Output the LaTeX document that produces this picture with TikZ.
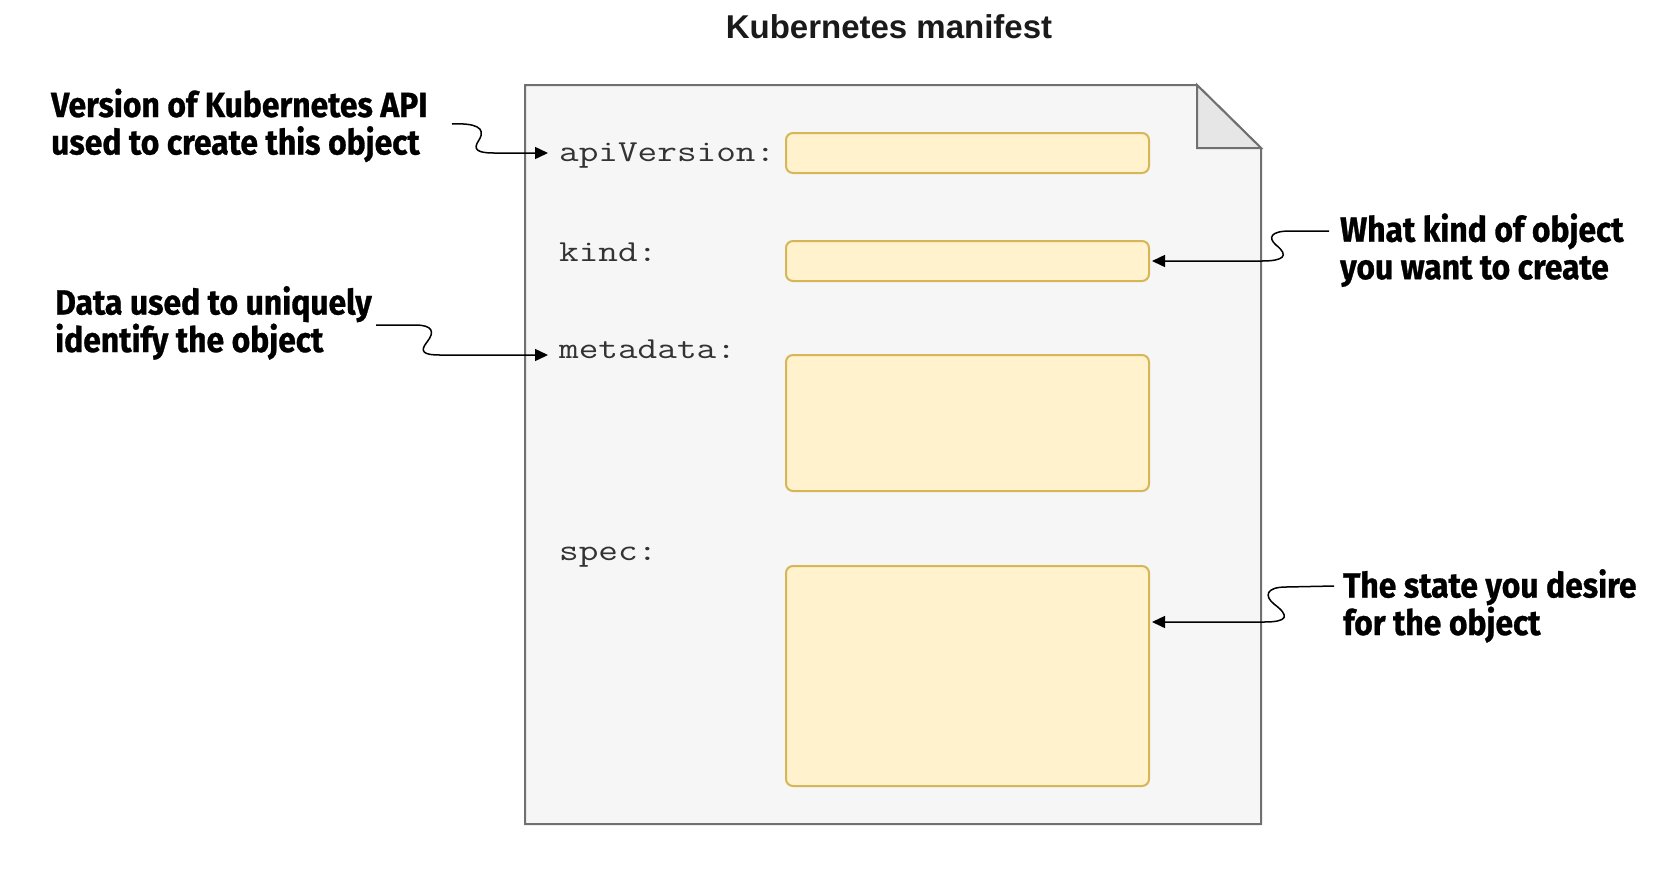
\documentclass[tikz,border=0pt]{standalone}
\usepackage{fontspec}
\usepackage{graphicx}
\usetikzlibrary{arrows.meta}
\newfontfamily\annfont{Fira Sans}[FakeStretch=0.91,FakeBold=0.8]
\newfontfamily\titlefont{Liberation Sans}
\definecolor{pagefill}{HTML}{F5F6F5}
\definecolor{pageline}{HTML}{707070}
\definecolor{foldfill}{HTML}{E6E6E6}
\definecolor{boxfill}{HTML}{FFF2CC}
\definecolor{boxline}{HTML}{D6B656}
\definecolor{codegray}{HTML}{333333}
\definecolor{titlecol}{HTML}{1A1A1A}
\tikzset{
  field/.style={draw=boxline, fill=boxfill, line width=2pt, rounded corners=7pt,
    anchor=north west, inner sep=0pt, outer sep=0pt, minimum width=363pt},
  code/.style={font=\fontsize{30.5}{36}\selectfont\ttfamily, text=codegray,
    inner sep=0pt, anchor=base west},
  note/.style={font=\annfont\bfseries\fontsize{35}{37.5}\selectfont, align=left,
    inner sep=0pt, anchor=base west},
  conn/.style={line width=1.5pt, -{Triangle[length=13pt,width=12pt]}},
  paper/.style={line width=2pt, draw=pageline, line join=miter},
}
\begin{document}
\begin{tikzpicture}[x=1pt,y=-1pt]
\fill[white] (0,0) rectangle (1655,871);
\useasboundingbox (0,0) rectangle (1655,871);

% title
\node[font=\titlefont\bfseries\fontsize{33}{36}\selectfont, text=titlecol,
  anchor=base, inner sep=0pt] (title) at (889,38.5) {Kubernetes manifest};

% page with folded corner
\draw[paper, fill=pagefill] (525,85) -- (1197,85) -- (1261,148) -- (1261,824) -- (525,824) -- cycle;
\draw[paper, fill=foldfill] (1197,85) -- (1197,148) -- (1261,148) -- cycle;

% fields
\node[field, minimum height=40pt] (apibox) at (786,133) {};
\node[field, minimum height=40pt] (kindbox) at (786,241) {};
\node[field, minimum height=136pt] (metabox) at (786,355) {};
\node[field, minimum height=220pt] (specbox) at (786,566) {};

% code labels
\node[code] (apitxt) at (559,161) {\scalebox{1.25}[1]{apiVersion:}};
\node[code] (kindtxt) at (559,261) {\scalebox{1.25}[1]{kind:}};
\node[code] (metatxt) at (559,358.5) {\scalebox{1.25}[1]{metadata:}};
\node[code] (spectxt) at (559,560) {\scalebox{1.25}[1]{spec:}};

% annotations (anchor = baseline of the last line)
\node[note] (n1) at (51,154.5) {Version of Kubernetes API\\used to create this object};
\node[note] (n2) at (55,352) {Data used to uniquely\\identify the object};
\node[note] (n3) at (1340,279.2) {What kind of object\\you want to create};
\node[note] (n4) at (1343,635) {The state you desire\\for the object};

% connectors
\coordinate (s1) at (452,124);
\coordinate (s2) at (376,325);
\coordinate (s3) at (1329,231);
\coordinate (s4) at (1334,586);

\draw[conn] (s1) .. controls (474,123) and (487,127) .. (479,140)
  .. controls (472,150) and (478,153) .. (494,153) -- ([shift={(-11,-8)}]apitxt.base west);
\draw[conn] (s2) -- (415,325) .. controls (433,325) and (435,332) .. (427,342)
  .. controls (419,352) and (424,355) .. (440,355) -- ([shift={(-11,-3.5)}]metatxt.base west);
\draw[conn] (s3) -- (1290,231) .. controls (1270,231) and (1268,238) .. (1276,245)
  .. controls (1290,256) and (1283,261) .. (1262,261) -- ([xshift=3pt]kindbox.east);
\draw[conn] (s4) -- (1286,587) .. controls (1266,587) and (1264,596) .. (1274,604)
  .. controls (1290,616) and (1288,622) .. (1264,622) -- ([shift={(3,56)}]specbox.north east);
\end{tikzpicture}
\end{document}
